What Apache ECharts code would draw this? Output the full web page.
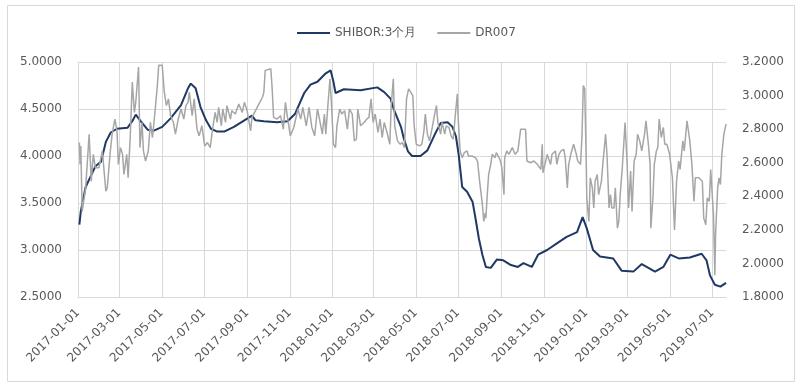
<!DOCTYPE html>
<html>
<head>
<meta charset="utf-8">
<script src="https://cdn.jsdelivr.net/npm/echarts@6/dist/echarts.min.js"></script>
<style>
html,body{margin:0;padding:0;background:#fff;}
#chart{width:799px;height:385px;}
</style>
</head>
<body>
<div id="chart"></div>
<script>
// ---- data ----
const seriesNames = ['SHIBOR:3个月', 'DR007'];

const tickDates = ['2017-01-01','2017-03-01','2017-05-01','2017-07-01','2017-09-01','2017-11-01',
  '2018-01-01','2018-03-01','2018-05-01','2018-07-01','2018-09-01','2018-11-01',
  '2019-01-01','2019-03-01','2019-05-01','2019-07-01'];

const axisStart = '2017-01-01';
const axisEnd = '2019-07-21';
const leftMin = 2.5, leftMax = 5.0, leftStep = 0.5;
const rightMin = 1.8, rightMax = 3.2, rightStep = 0.2;

const shiborDates = ['2017-01-03','2017-01-05','2017-01-12','2017-01-19','2017-01-26','2017-02-03','2017-02-10','2017-02-17','2017-02-26','2017-03-13',
  '2017-03-20','2017-03-25','2017-04-01','2017-04-11','2017-04-20','2017-05-02','2017-05-14','2017-05-29','2017-06-08','2017-06-12',
  '2017-06-19','2017-06-26','2017-07-04','2017-07-11','2017-07-20','2017-07-30','2017-08-13','2017-08-28','2017-09-08','2017-09-13',
  '2017-09-25','2017-10-14','2017-10-29','2017-11-09','2017-11-22','2017-12-01','2017-12-11','2017-12-23','2017-12-30','2018-01-03',
  '2018-01-06','2018-01-18','2018-02-11','2018-03-07','2018-03-17','2018-03-26','2018-03-31','2018-04-10','2018-04-14','2018-04-20',
  '2018-04-26','2018-05-08','2018-05-18','2018-05-28','2018-06-06','2018-06-16','2018-06-23','2018-06-28','2018-07-02','2018-07-07',
  '2018-07-14','2018-07-22','2018-07-26','2018-07-31','2018-08-05','2018-08-10','2018-08-17','2018-08-26','2018-09-04','2018-09-15',
  '2018-09-25','2018-10-03','2018-10-15','2018-10-24','2018-11-06','2018-11-20','2018-12-04','2018-12-19','2018-12-27','2019-01-02',
  '2019-01-11','2019-01-21','2019-02-09','2019-02-21','2019-03-10','2019-03-22','2019-04-10','2019-04-22','2019-05-02','2019-05-14',
  '2019-05-30','2019-06-16','2019-06-23','2019-06-28','2019-07-05','2019-07-13','2019-07-21'];
const shiborValues = [3.27,3.41,3.67,3.78,3.89,3.94,4.15,4.25,4.29,4.30,
  4.37,4.44,4.37,4.28,4.27,4.31,4.40,4.54,4.72,4.77,
  4.72,4.52,4.38,4.29,4.26,4.26,4.31,4.38,4.43,4.38,
  4.37,4.36,4.37,4.45,4.67,4.76,4.79,4.88,4.91,4.79,
  4.67,4.71,4.70,4.73,4.68,4.61,4.49,4.31,4.19,4.05,
  4.00,4.00,4.06,4.22,4.35,4.36,4.31,4.21,4.01,3.67,
  3.62,3.51,3.34,3.12,2.95,2.82,2.81,2.90,2.89,2.84,
  2.82,2.86,2.82,2.95,3.00,3.07,3.14,3.19,3.35,3.23,
  3.00,2.93,2.91,2.78,2.77,2.85,2.77,2.82,2.95,2.91,
  2.92,2.96,2.89,2.73,2.63,2.61,2.65];

const drDates = ['2017-01-03','2017-01-04','2017-01-05','2017-01-07','2017-01-12','2017-01-17','2017-01-20','2017-01-23','2017-01-26','2017-01-31',
  '2017-02-05','2017-02-10','2017-02-12','2017-02-16','2017-02-19','2017-02-23','2017-02-26','2017-02-28','2017-03-03','2017-03-06',
  '2017-03-08','2017-03-12','2017-03-14','2017-03-17','2017-03-20','2017-03-23','2017-03-25','2017-03-29','2017-03-31','2017-04-03',
  '2017-04-05','2017-04-08','2017-04-12','2017-04-15','2017-04-18','2017-04-22','2017-04-25','2017-04-27','2017-05-02','2017-05-05',
  '2017-05-08','2017-05-11','2017-05-14','2017-05-18','2017-05-21','2017-05-25','2017-05-29','2017-06-02','2017-06-05','2017-06-08',
  '2017-06-10','2017-06-14','2017-06-17','2017-06-21','2017-06-24','2017-06-28','2017-07-02','2017-07-06','2017-07-10','2017-07-13',
  '2017-07-17','2017-07-20','2017-07-22','2017-07-26','2017-07-28','2017-08-01','2017-08-03','2017-08-08','2017-08-10','2017-08-15',
  '2017-08-20','2017-08-25','2017-08-28','2017-09-01','2017-09-06','2017-09-08','2017-09-13','2017-09-18','2017-09-23','2017-09-25',
  '2017-09-27','2017-10-05','2017-10-07','2017-10-09','2017-10-14','2017-10-19','2017-10-23','2017-10-26','2017-10-29','2017-11-02',
  '2017-11-07','2017-11-13','2017-11-17','2017-11-20','2017-11-25','2017-11-29','2017-12-03','2017-12-07','2017-12-11','2017-12-14',
  '2017-12-18','2017-12-21','2017-12-23','2017-12-26','2017-12-29','2017-12-31','2018-01-03','2018-01-06','2018-01-08','2018-01-12',
  '2018-01-15','2018-01-19','2018-01-23','2018-01-26','2018-01-30','2018-02-02','2018-02-05','2018-02-07','2018-02-11','2018-02-16',
  '2018-02-20','2018-02-23','2018-02-26','2018-03-01','2018-03-04','2018-03-08','2018-03-11','2018-03-14','2018-03-17','2018-03-21',
  '2018-03-25','2018-03-27','2018-03-30','2018-04-01','2018-04-05','2018-04-09','2018-04-12','2018-04-15','2018-04-18','2018-04-21',
  '2018-04-24','2018-04-27','2018-04-29','2018-05-02','2018-05-07','2018-05-10','2018-05-13','2018-05-15','2018-05-18','2018-05-21',
  '2018-05-25','2018-05-28','2018-05-31','2018-06-02','2018-06-06','2018-06-08','2018-06-12','2018-06-14','2018-06-18','2018-06-21',
  '2018-06-24','2018-06-27','2018-06-30','2018-07-01','2018-07-04','2018-07-07','2018-07-10','2018-07-14','2018-07-16','2018-07-21',
  '2018-07-26','2018-07-29','2018-08-01','2018-08-05','2018-08-07','2018-08-09','2018-08-10','2018-08-12','2018-08-14','2018-08-17',
  '2018-08-19','2018-08-23','2018-08-25','2018-08-29','2018-08-31','2018-09-02','2018-09-05','2018-09-06','2018-09-09','2018-09-12',
  '2018-09-17','2018-09-21','2018-09-25','2018-09-29','2018-10-06','2018-10-08','2018-10-13','2018-10-18','2018-10-23','2018-10-28',
  '2018-10-30','2018-10-31','2018-11-04','2018-11-06','2018-11-11','2018-11-13','2018-11-18','2018-11-20','2018-11-23','2018-11-26',
  '2018-11-30','2018-12-02','2018-12-05','2018-12-07','2018-12-10','2018-12-14','2018-12-18','2018-12-20','2018-12-24','2018-12-26',
  '2018-12-28','2018-12-30','2019-01-01','2019-01-02','2019-01-05','2019-01-07','2019-01-10','2019-01-12','2019-01-14','2019-01-17',
  '2019-01-19','2019-01-23','2019-01-25','2019-01-29','2019-01-31','2019-02-03','2019-02-05','2019-02-07','2019-02-10','2019-02-12',
  '2019-02-15','2019-02-17','2019-02-19','2019-02-22','2019-02-26','2019-02-27','2019-03-01','2019-03-03','2019-03-06','2019-03-08',
  '2019-03-11','2019-03-14','2019-03-16','2019-03-19','2019-03-22','2019-03-26','2019-03-28','2019-03-31','2019-04-03','2019-04-04',
  '2019-04-07','2019-04-09','2019-04-12','2019-04-14','2019-04-16','2019-04-19','2019-04-22','2019-04-24','2019-04-27','2019-05-01',
  '2019-05-05','2019-05-08','2019-05-11','2019-05-14','2019-05-16','2019-05-20','2019-05-22','2019-05-26','2019-05-30','2019-06-02',
  '2019-06-05','2019-06-07','2019-06-12','2019-06-17','2019-06-19','2019-06-22','2019-06-24','2019-06-27','2019-06-29','2019-07-01',
  '2019-07-03','2019-07-05','2019-07-06','2019-07-09','2019-07-11','2019-07-13','2019-07-15','2019-07-18','2019-07-21'];
const drValues = [2.72,2.59,2.70,2.31,2.45,2.77,2.49,2.65,2.57,2.57,
  2.67,2.43,2.45,2.65,2.77,2.86,2.79,2.59,2.69,2.65,
  2.53,2.65,2.51,2.75,3.08,2.90,2.96,3.17,2.69,2.84,
  2.67,2.61,2.67,2.84,2.75,2.92,3.06,3.18,3.18,3.02,
  2.94,2.98,2.88,2.84,2.77,2.86,2.92,2.86,2.94,2.96,
  3.02,2.88,2.98,2.80,2.76,2.82,2.70,2.72,2.69,2.79,
  2.90,2.84,2.93,2.82,2.92,2.84,2.94,2.86,2.91,2.89,
  2.95,2.90,2.96,2.91,2.79,2.87,2.91,2.95,2.99,3.02,
  3.15,3.16,3.04,2.87,2.86,2.88,2.80,2.96,2.87,2.76,
  2.81,2.92,2.86,2.93,2.82,2.93,2.81,2.76,2.92,2.86,
  2.77,2.89,2.77,2.94,3.10,2.96,2.71,2.69,2.82,2.92,
  2.89,2.91,2.80,2.92,2.89,2.73,2.74,2.92,2.82,2.84,
  2.86,2.87,2.98,2.84,2.89,2.78,2.86,2.75,2.84,2.78,
  2.71,2.94,3.10,2.82,2.73,2.71,2.72,2.69,2.98,3.04,
  3.02,3.00,2.82,2.71,2.70,2.71,2.79,2.89,2.77,2.73,
  2.81,2.88,2.94,2.84,2.77,2.84,2.77,2.82,2.81,2.76,
  2.74,2.88,3.01,2.88,2.67,2.63,2.66,2.67,2.64,2.64,
  2.63,2.61,2.49,2.35,2.25,2.30,2.27,2.41,2.53,2.59,
  2.65,2.63,2.66,2.63,2.61,2.57,2.41,2.63,2.67,2.65,
  2.69,2.65,2.67,2.80,2.80,2.61,2.60,2.61,2.59,2.56,
  2.71,2.54,2.61,2.65,2.59,2.65,2.67,2.59,2.65,2.67,
  2.68,2.63,2.45,2.59,2.65,2.71,2.65,2.61,2.59,2.75,
  3.06,3.04,2.65,2.39,2.25,2.51,2.45,2.33,2.49,2.53,
  2.41,2.49,2.59,2.77,2.65,2.33,2.41,2.33,2.33,2.45,
  2.21,2.25,2.41,2.57,2.84,2.75,2.59,2.33,2.55,2.31,
  2.61,2.65,2.77,2.73,2.67,2.77,2.85,2.73,2.59,2.21,
  2.39,2.59,2.67,2.69,2.86,2.75,2.81,2.71,2.71,2.65,
  2.51,2.20,2.49,2.61,2.56,2.73,2.67,2.85,2.73,2.59,
  2.37,2.51,2.51,2.49,2.27,2.23,2.39,2.37,2.56,2.56,
  2.29,1.93,2.17,2.45,2.51,2.47,2.65,2.77,2.83];

// ---- chart ----
function ts(s) { return new Date(s + 'T00:00:00').getTime(); }
function pad(n) { return n < 10 ? '0' + n : '' + n; }
function fmtDate(v) { const d = new Date(v); return d.getFullYear() + '-' + pad(d.getMonth() + 1) + '-' + pad(d.getDate()); }

const FONT = 'DejaVu Sans';
const TXT = '#595959';
const GRID = '#d9d9d9';
const GRID_POS = { left: 78, right: 73, top: 62, bottom: 88 };
const tickTs = tickDates.map(ts);
const t0 = ts(axisStart), t1 = ts(axisEnd);

const borderRect = {
  type: 'rect', silent: true, z: 0,
  shape: { x: 7.5, y: 5.5, width: 787, height: 376 },
  style: { fill: 'none', stroke: GRID, lineWidth: 1 }
};

const chart = echarts.init(document.getElementById('chart'), null, { renderer: 'canvas' });
chart.setOption({
  animation: false,
  backgroundColor: '#fff',
  textStyle: { fontFamily: FONT },
  graphic: { elements: [borderRect] },
  legend: {
    left: 292, top: 22,
    itemWidth: 33, itemHeight: 2, itemGap: 21,
    icon: 'rect',
    textStyle: { fontFamily: FONT, fontSize: 12, color: TXT },
    data: seriesNames
  },
  grid: Object.assign({ containLabel: false }, GRID_POS),
  xAxis: {
    type: 'value',
    min: t0, max: t1,
    axisLine: { show: true, lineStyle: { color: GRID } },
    axisTick: { show: false, customValues: tickTs },
    splitLine: { show: false },
    axisLabel: {
      customValues: tickTs,
      rotate: 45, margin: 14,
      fontFamily: FONT, fontSize: 12, color: TXT,
      formatter: function (v) { return fmtDate(v); }
    }
  },
  yAxis: [{
    type: 'value', min: leftMin, max: leftMax, interval: leftStep,
    axisLine: { show: false }, axisTick: { show: false },
    splitLine: { show: true, lineStyle: { color: GRID, width: 1 } },
    axisLabel: { margin: 16, fontFamily: FONT, fontSize: 12, color: TXT, formatter: v => v.toFixed(4) }
  }, {
    type: 'value', min: rightMin, max: rightMax, interval: rightStep,
    axisLine: { show: false }, axisTick: { show: false },
    splitLine: { show: false },
    axisLabel: { margin: 16, fontFamily: FONT, fontSize: 12, color: TXT, formatter: v => v.toFixed(4) }
  }],
  series: [{
    name: seriesNames[0], type: 'line', yAxisIndex: 0, z: 2,
    symbol: 'none', smooth: false,
    color: '#1f3864',
    lineStyle: { color: '#1f3864', width: 2 },
    data: shiborDates.map((d, i) => [ts(d), shiborValues[i]])
  }, {
    name: seriesNames[1], type: 'line', yAxisIndex: 1, z: 3,
    symbol: 'none', smooth: false,
    color: '#a6a6a6',
    lineStyle: { color: '#a6a6a6', width: 1.5 },
    data: drDates.map((d, i) => [ts(d), drValues[i]])
  }]
});

// vertical gridlines at the tick dates
function tickPixelX(t) {
  let x = null;
  try {
    const p = chart.convertToPixel({ xAxisIndex: 0 }, t);
    if (typeof p === 'number' && isFinite(p)) x = p;
    else if (p && isFinite(p[0])) x = p[0];
  } catch (e) {}
  if (x === null) {
    const gw = chart.getWidth() - GRID_POS.left - GRID_POS.right;
    x = GRID_POS.left + (t - t0) / (t1 - t0) * gw;
  }
  return x;
}
function drawVGrid() {
  const yTop = GRID_POS.top;
  const yBot = chart.getHeight() - GRID_POS.bottom;
  const els = [borderRect];
  tickTs.forEach(t => {
    const x = Math.round(tickPixelX(t)) + 0.5;
    els.push({
      type: 'line', silent: true, z: 0,
      shape: { x1: x, y1: yTop, x2: x, y2: yBot },
      style: { stroke: GRID, lineWidth: 1, fill: null }
    });
  });
  chart.setOption({ graphic: { elements: els } }, { replaceMerge: ['graphic'] });
}
drawVGrid();
</script>
</body>
</html>
